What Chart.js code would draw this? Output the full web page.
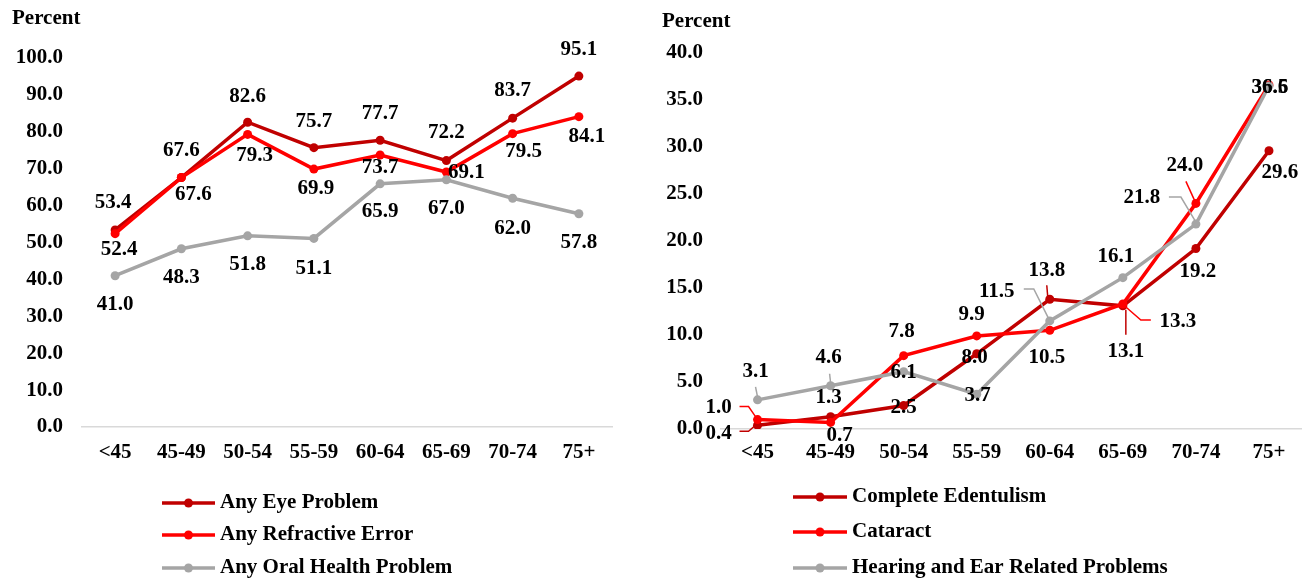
<!DOCTYPE html>
<html>
<head>
<meta charset="utf-8">
<script src="https://cdn.jsdelivr.net/npm/chart.js@4.4.1/dist/chart.umd.min.js"></script>
<style>
  html, body { margin: 0; padding: 0; background: #fff; overflow: hidden; width: 1302px; height: 580px; }
  #leftWrap { position: absolute; left: 0; top: 0; width: 650px; height: 580px; }
  #rightWrap { position: absolute; left: 650px; top: 0; width: 660px; height: 580px; }
</style>
</head>
<body>
<div id="leftWrap"><canvas id="leftChart" width="650" height="580"></canvas></div>
<div id="rightWrap"><canvas id="rightChart" width="660" height="580"></canvas></div>
<script>
// ---------- DATA ----------
const categories = ['<45', '45-49', '50-54', '55-59', '60-64', '65-69', '70-74', '75+'];

const leftSeriesNames = ['Any Eye Problem', 'Any Refractive Error', 'Any Oral Health Problem'];
const anyEyeProblem = [53.4, 67.6, 82.6, 75.7, 77.7, 72.2, 83.7, 95.1];
const anyRefractiveError = [52.4, 67.6, 79.3, 69.9, 73.7, 69.1, 79.5, 84.1];
const anyOralHealthProblem = [41.0, 48.3, 51.8, 51.1, 65.9, 67.0, 62.0, 57.8];

const rightSeriesNames = ['Complete Edentulism', 'Cataract', 'Hearing and Ear Related Problems'];
const completeEdentulism = [0.4, 1.3, 2.5, 8.0, 13.8, 13.1, 19.2, 29.6];
const cataract = [1.0, 0.7, 7.8, 9.9, 10.5, 13.3, 24.0, 36.6];
const hearingEar = [3.1, 4.6, 6.1, 3.7, 11.5, 16.1, 21.8, 36.5];

const leftAxis = { min: 0, max: 100, step: 10 };
const rightAxis = { min: 0, max: 40, step: 5 };
const yAxisTitle = 'Percent';

// ---------- STYLE ----------
const COLORS = ['#C00000', '#FF0000', '#A5A5A5'];
const FONT_FAMILY = "'Liberation Serif', 'Times New Roman', serif";
const FONT_SIZE = 21;

// label offsets (dx, dy) from each point, in px
const leftLabelOffsets = [
  [[-2,-27],[0,-27],[0,-26],[0,-26],[0,-27],[0,-28],[0,-28],[0,-27]],
  [[4,16],[12,17],[7,21],[2,20],[0,13],[20,1],[11,18],[8,20]],
  [[0,29],[0,29],[0,29],[0,30],[0,28],[0,29],[0,30],[0,29]]
];
const rightLabelOffsets = [
  [[-39,8],[-2,-19],[0,2],[-2,4],[-3,-29],[3,46],[2,23],[11,22]],
  [[-39,-12],[9,13],[-2,-24],[-5,-21],[-3,27],[55,18],[-11,-38],[1,3]],
  [[-2,-28],[-2,-28],[0,1],[1,1],[-53,-29],[-7,-21],[-54,-27],[1,2]]
];
// leader lines: polylines relative to the point
const rightLeaders = [
  { 0: [[-18,6],[-9,6],[-2,0]], 4: [[-3,-14],[-2,-2]], 5: [[3,29],[3,4]] },
  { 0: [[-18,-13],[-9,-13],[-2,-3]], 5: [[28,16],[18,16],[3,3]], 6: [[-10,-22],[0,0]] },
  { 0: [[-2,-13],[0,-3]], 1: [[-1,-12],[0,-3]], 4: [[-26,-32],[-16,-32],[-1,-2]], 6: [[-27,-27],[-15,-27],[0,-2]] }
];

function makeChart(canvasId, names, series, axis, cfg) {
  const datasets = series.map((data, i) => ({
    label: names[i],
    data: data,
    borderColor: COLORS[i],
    backgroundColor: COLORS[i],
    pointBackgroundColor: COLORS[i],
    pointBorderColor: COLORS[i],
    borderWidth: 3.5,
    pointRadius: 4.5,
    pointBorderWidth: 0,
    tension: 0,
    order: series.length - i
  }));

  const labelPlugin = {
    id: 'valueLabels',
    afterDatasetsDraw(chart) {
      const ctx = chart.ctx;
      ctx.save();
      chart.data.datasets.forEach((ds, di) => {
        const meta = chart.getDatasetMeta(di);
        const leaders = (cfg.leaders && cfg.leaders[di]) || {};
        meta.data.forEach((pt, i) => {
          const path = leaders[i];
          if (path) {
            ctx.strokeStyle = COLORS[di];
            ctx.lineWidth = 1.5;
            ctx.beginPath();
            path.forEach((p, k) => {
              const x = pt.x + p[0], y = pt.y + p[1];
              if (k === 0) ctx.moveTo(x, y); else ctx.lineTo(x, y);
            });
            ctx.stroke();
          }
        });
      });
      ctx.fillStyle = '#000';
      ctx.font = 'bold ' + FONT_SIZE + 'px ' + FONT_FAMILY;
      ctx.textAlign = 'center';
      ctx.textBaseline = 'middle';
      chart.data.datasets.forEach((ds, di) => {
        const meta = chart.getDatasetMeta(di);
        meta.data.forEach((pt, i) => {
          const off = cfg.offsets[di][i];
          ctx.fillText(ds.data[i].toFixed(1), pt.x + off[0], pt.y + off[1]);
        });
      });
      ctx.restore();
    },
    afterDraw(chart) {
      const ctx = chart.ctx;
      ctx.save();
      ctx.font = 'bold ' + FONT_SIZE + 'px ' + FONT_FAMILY;
      ctx.fillStyle = '#000';
      ctx.textBaseline = 'middle';
      ctx.textAlign = 'left';
      ctx.fillText(yAxisTitle, cfg.titleX, cfg.titleY);
      // legend
      const lg = cfg.legend;
      names.forEach((name, i) => {
        const y = lg.rows[i];
        ctx.strokeStyle = COLORS[i];
        ctx.lineWidth = 3.5;
        ctx.beginPath();
        ctx.moveTo(lg.x0, y);
        ctx.lineTo(lg.x1, y);
        ctx.stroke();
        ctx.fillStyle = COLORS[i];
        ctx.beginPath();
        ctx.arc((lg.x0 + lg.x1) / 2, y, 4.5, 0, Math.PI * 2);
        ctx.fill();
        ctx.fillStyle = '#000';
        ctx.fillText(name, lg.textX, y);
      });
      ctx.restore();
    }
  };

  return new Chart(document.getElementById(canvasId), {
    type: 'line',
    data: { labels: categories, datasets: datasets },
    options: {
      responsive: false,
      animation: false,
      devicePixelRatio: 1,
      layout: { padding: { top: cfg.top, right: cfg.padRight, left: 0, bottom: 0 } },
      plugins: { legend: { display: false }, tooltip: { enabled: false }, title: { display: false } },
      scales: {
        x: {
          offset: true,
          grid: { display: false, drawTicks: false },
          border: { display: true, color: '#D9D9D9', width: 1.5 },
          ticks: { color: '#000', padding: cfg.xPad, font: { family: FONT_FAMILY, size: FONT_SIZE, weight: 'bold' }, maxRotation: 0, autoSkip: false },
          afterFit: (s) => { s.height = cfg.xHeight; }
        },
        y: {
          min: axis.min, max: axis.max,
          grid: { display: false, drawTicks: false },
          border: { display: false },
          ticks: {
            stepSize: axis.step, color: '#000', padding: cfg.yPad,
            font: { family: FONT_FAMILY, size: FONT_SIZE, weight: 'bold' },
            callback: (v) => Number(v).toFixed(1)
          },
          afterFit: (s) => { s.width = cfg.yWidth; }
        }
      }
    },
    plugins: [labelPlugin]
  });
}

makeChart('leftChart', leftSeriesNames, [anyEyeProblem, anyRefractiveError, anyOralHealthProblem], leftAxis, {
  top: 58, padRight: 38, yWidth: 82, yPad: 19, xHeight: 153, xPad: 13,
  offsets: leftLabelOffsets, leaders: null,
  titleX: 12, titleY: 19,
  legend: { x0: 162, x1: 215, textX: 220, rows: [503, 535, 568] }
});

makeChart('rightChart', rightSeriesNames, [completeEdentulism, cataract, hearingEar], rightAxis, {
  top: 53, padRight: 3, yWidth: 71, yPad: 18, xHeight: 151, xPad: 11,
  offsets: rightLabelOffsets, leaders: rightLeaders,
  titleX: 12, titleY: 22,
  legend: { x0: 143, x1: 197, textX: 202, rows: [497, 532, 568] }
});
</script>
</body>
</html>
